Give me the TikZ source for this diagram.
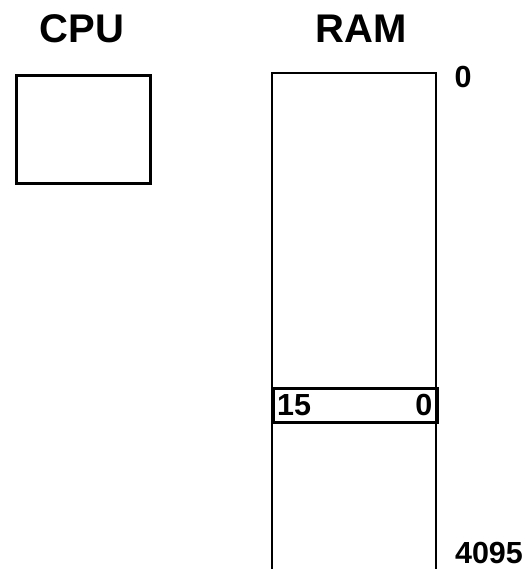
\documentclass[tikz,border=0pt]{standalone}
\usepackage{fontspec}
\setmainfont{Liberation Sans}
\usetikzlibrary{positioning}

\begin{document}
\begin{tikzpicture}[
            x=1pt, y=-1pt,
            box/.style={draw, line width=2.6pt, inner sep=0pt},
            title/.style={font=\bfseries\fontsize{40}{44}\selectfont, inner sep=0pt},
            num/.style={font=\bfseries\fontsize{30.5}{33}\selectfont, inner sep=0pt},
            memline/.style={line width=2.6pt}
        ]
            \useasboundingbox (0,0) rectangle (529,569);

            \node [title] (cputitle) at (82,29) {CPU};
            \node [box, minimum width=134pt, minimum height=108pt, anchor=north west] (cpu) at (15,74) {};

            \node [title] (ramtitle) at (361,29) {RAM};
            \coordinate (ramtl) at (272,73);
            \coordinate (ramtr) at (436,73);
            \coordinate (rambl) at (272,590);
            \coordinate (rambr) at (436,590);
            \draw [memline] (rambl) -- (ramtl) -- (ramtr) -- (rambr);

            \node [box, minimum width=164pt, minimum height=34pt, anchor=north west] (word) at (272,387) {};
            \node [num, anchor=west] (msb) at ([xshift=5pt]word.west) {15};
            \node [num, anchor=east] (lsb) at ([xshift=-6pt]word.east) {0};

            \node [num] (first) at (463,77) {0};
            \node [num] (last) at (489,553) {4095};

        \end{tikzpicture}
\end{document}
